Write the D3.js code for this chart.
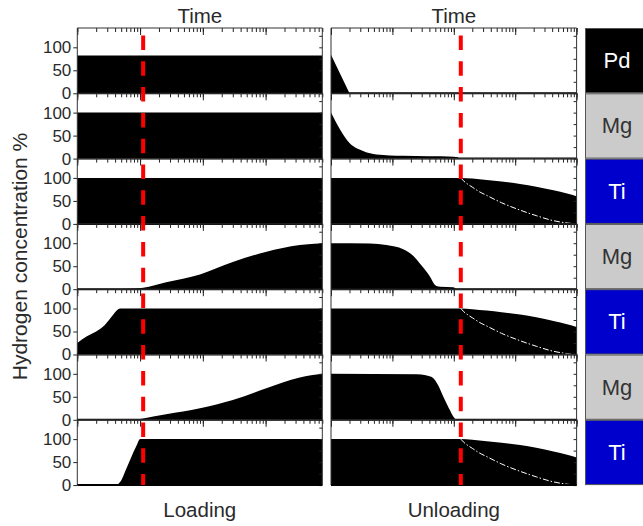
<!DOCTYPE html>
<html>
<head>
<meta charset="utf-8">
<script src="https://cdn.jsdelivr.net/npm/d3@7"></script>
<style>
  body { margin: 0; background: #fff; }
  text { font-family: "Liberation Sans", Arial, sans-serif; }
</style>
</head>
<body>
<svg id="chart" width="643" height="526"></svg>
<script>
// Layer stack, top to bottom
const layers = ["Pd", "Mg", "Ti", "Mg", "Ti", "Mg", "Ti"];

// Hydrogen concentration (%) versus time during loading: [time, %]
const loadPd  = [[1, 82], [8000, 82]];
const loadMg1 = [[1, 100], [8000, 100]];
const loadTi1 = [[1, 100], [8000, 100]];
const loadMg2 = [[1, 0], [4, 0], [7, 0.8], [11.2, 3], [26, 15], [90, 32], [300, 59], [1000, 81], [3500, 96], [8000, 100]];
const loadTi2 = [[1, 25], [1.4, 39], [2, 50], [2.5, 59], [2.9, 68], [3.7, 86], [4.2, 95], [4.8, 100], [8000, 100]];
const loadMg3 = [[1, 0], [5, 0], [9, 1], [11.2, 3], [26, 12], [90, 25], [300, 43], [1000, 68], [3500, 92], [8000, 100]];
const loadTi3 = [[1, 0], [3.8, 0], [4.4, 2], [5, 10], [5.8, 30], [6.9, 54], [8.8, 86], [10, 100], [8000, 100]];

// Hydrogen concentration (%) versus time during unloading: [time, %]
const unloadPd  = [[1, 84], [2, 0], [10000, 0]];
const unloadMg1 = [[1, 100], [2, 34], [3.4, 16], [5.5, 9], [15, 6], [100, 4], [115, 3], [125, 0], [10000, 0]];
const unloadTi  = [[1, 100], [130, 100], [200, 98.5], [343, 95.5], [600, 92], [1200, 87], [2200, 81], [4200, 73], [7000, 66], [10000, 60]];
const unloadMg2 = [[1, 100], [4.3, 99.5], [8, 96], [15, 87], [22, 72], [28, 56], [35, 40], [41, 27], [47, 13], [52, 7], [60, 5.5], [98, 4.5], [112, 0], [10000, 0]];
const unloadMg3 = [[1, 100], [25, 99], [35, 97], [46, 91], [55, 76], [67, 51], [78, 33], [87, 20], [97, 8], [105, 2], [112, 0], [10000, 0]];
// Ti layer trace drawn as a dash-dot curve after unloading starts
const unloadTiTrace = [[130, 100], [143, 94], [170, 86], [200, 80], [260, 70], [343, 62], [600, 46], [1200, 30], [2200, 18], [4200, 7], [7000, 2], [10000, 0]];

// Switch-over moments (time) marked by the red dashed lines
const loadSwitch = 11.2;
const unloadSwitch = 130;

// Axis ticks
const yLabelTicks = [0, 50, 100];
const yRightTicks = [0, 25, 50, 75, 100, 125];

// Column titles
const columnTop = ["Time", "Time"];
const columnBottom = ["Loading", "Unloading"];
const yTitle = "Hydrogen concentration %";

const loadSeries = [loadPd, loadMg1, loadTi1, loadMg2, loadTi2, loadMg3, loadTi3];
const unloadSeries = [unloadPd, unloadMg1, unloadTi, unloadMg2, unloadTi, unloadMg3, unloadTi];
const unloadTraces = [null, null, unloadTiTrace, null, unloadTiTrace, null, unloadTiTrace];

const layerFill = { Pd: "#000000", Mg: "#cbcbcb", Ti: "#0000cc" };
const layerInk  = { Pd: "#ffffff", Mg: "#333333", Ti: "#ffffff" };

const svg = d3.select("#chart");
const top0 = 28, rowH = 65.3;
const textColor = "#2a2a2a";

const columns = [
  { x: d3.scaleLog().domain([1, 8000]).range([77.3, 322.3]), series: loadSeries, traces: null, marker: loadSwitch, labels: true, lin: [] },
  { x: d3.scaleLog().domain([1, 10000]).range([331, 576.6]), series: unloadSeries, traces: unloadTraces, marker: unloadSwitch, labels: false, lin: [0] }
];

columns.forEach((col, ci) => {
  const x = col.x;
  const [x0, x1] = x.range();
  const g = svg.append("g");

  layers.forEach((layer, ri) => {
    const top = top0 + ri * rowH;
    const bottom = top + rowH;
    const y = d3.scaleLinear().domain([0, 142]).range([bottom, top]);
    const p = g.append("g");

    const curve = col.lin.includes(ri) ? d3.curveLinear : d3.curveMonotoneX;
    const area = d3.area()
      .x(d => x(d[0])).y0(y(0)).y1(d => y(d[1]))
      .curve(curve);
    p.append("path").datum(col.series[ri])
      .attr("d", area).attr("fill", "#000");

    if (col.traces && col.traces[ri]) {
      const line = d3.line().x(d => x(d[0])).y(d => y(d[1])).curve(d3.curveMonotoneX);
      p.append("path").datum(col.traces[ri])
        .attr("d", line).attr("fill", "none")
        .attr("stroke", "#fff").attr("stroke-width", 1)
        .attr("stroke-dasharray", "6,2,1.5,2");
    }

    // top (time) axis: minor and major ticks pointing into the panel
    const decades = x.ticks().filter(v => Math.abs(Math.log10(v) - Math.round(Math.log10(v))) < 1e-9);
    const minorAxis = d3.axisBottom(x).tickValues(x.ticks()).tickSize(4).tickFormat("");
    const majorAxis = d3.axisBottom(x).tickValues(decades).tickSize(7).tickFormat("");
    [minorAxis, majorAxis].forEach(ax => {
      const a = p.append("g").attr("transform", `translate(0,${top})`).call(ax);
      a.select(".domain").remove();
      a.selectAll("line").attr("stroke", "#222");
    });

    // right edge ticks
    const ra = p.append("g").attr("transform", `translate(${x1},0)`)
      .call(d3.axisLeft(y).tickValues(yRightTicks).tickSize(3).tickFormat(""));
    ra.select(".domain").remove();
    ra.selectAll("line").attr("stroke", "#222");

    if (col.labels) {
      const la = p.append("g").attr("transform", `translate(${x0},0)`)
        .call(d3.axisLeft(y).tickValues(yLabelTicks).tickSize(4).tickPadding(2));
      la.select(".domain").remove();
      la.selectAll("line").attr("stroke", "#222");
      la.selectAll("text").attr("fill", textColor)
        .style("font-size", "17px").style("font-family", '"Liberation Sans", Arial, sans-serif');
    }

    // frame
    p.append("line").attr("x1", x0).attr("x2", x1).attr("y1", top).attr("y2", top)
      .attr("stroke", "#333").attr("stroke-width", 1);
    p.append("line").attr("x1", x0).attr("x2", x0).attr("y1", top).attr("y2", bottom)
      .attr("stroke", "#333").attr("stroke-width", 1);
    p.append("line").attr("x1", x1).attr("x2", x1).attr("y1", top).attr("y2", bottom)
      .attr("stroke", "#333").attr("stroke-width", 1);
    p.append("line").attr("x1", x0).attr("x2", x1).attr("y1", y(0)).attr("y2", y(0))
      .attr("stroke", "#000").attr("stroke-width", 2);
  });

  // switch-over marker
  g.append("line")
    .attr("x1", x(col.marker)).attr("x2", x(col.marker))
    .attr("y1", 35.5).attr("y2", top0 + layers.length * rowH)
    .attr("stroke", "#ff0000").attr("stroke-width", 4)
    .attr("stroke-dasharray", "14.5,11.3");

  const cx = (x0 + x1) / 2;
  g.append("text").attr("x", cx).attr("y", 22.7).attr("text-anchor", "middle")
    .attr("fill", textColor).style("font-size", "20.5px").text(columnTop[ci]);
  g.append("text").attr("x", cx).attr("y", 517).attr("text-anchor", "middle")
    .attr("fill", textColor).style("font-size", "20.5px").text(columnBottom[ci]);
});

// y title
svg.append("text")
  .attr("transform", `translate(27,256.5) rotate(-90)`)
  .attr("text-anchor", "middle").attr("fill", textColor)
  .style("font-size", "21px").text(yTitle);

// layer legend column
const leg = svg.append("g");
layers.forEach((layer, ri) => {
  const top = top0 + ri * rowH;
  leg.append("rect").attr("x", 585.5).attr("y", top + 0.5)
    .attr("width", 64).attr("height", rowH - 1)
    .attr("fill", layerFill[layer]).attr("stroke", "#555").attr("stroke-width", 1);
  leg.append("text").attr("x", 617).attr("y", top + rowH / 2)
    .attr("text-anchor", "middle").attr("dominant-baseline", "central")
    .attr("fill", layerInk[layer]).style("font-size", "22px").text(layer);
});
</script>
</body>
</html>
